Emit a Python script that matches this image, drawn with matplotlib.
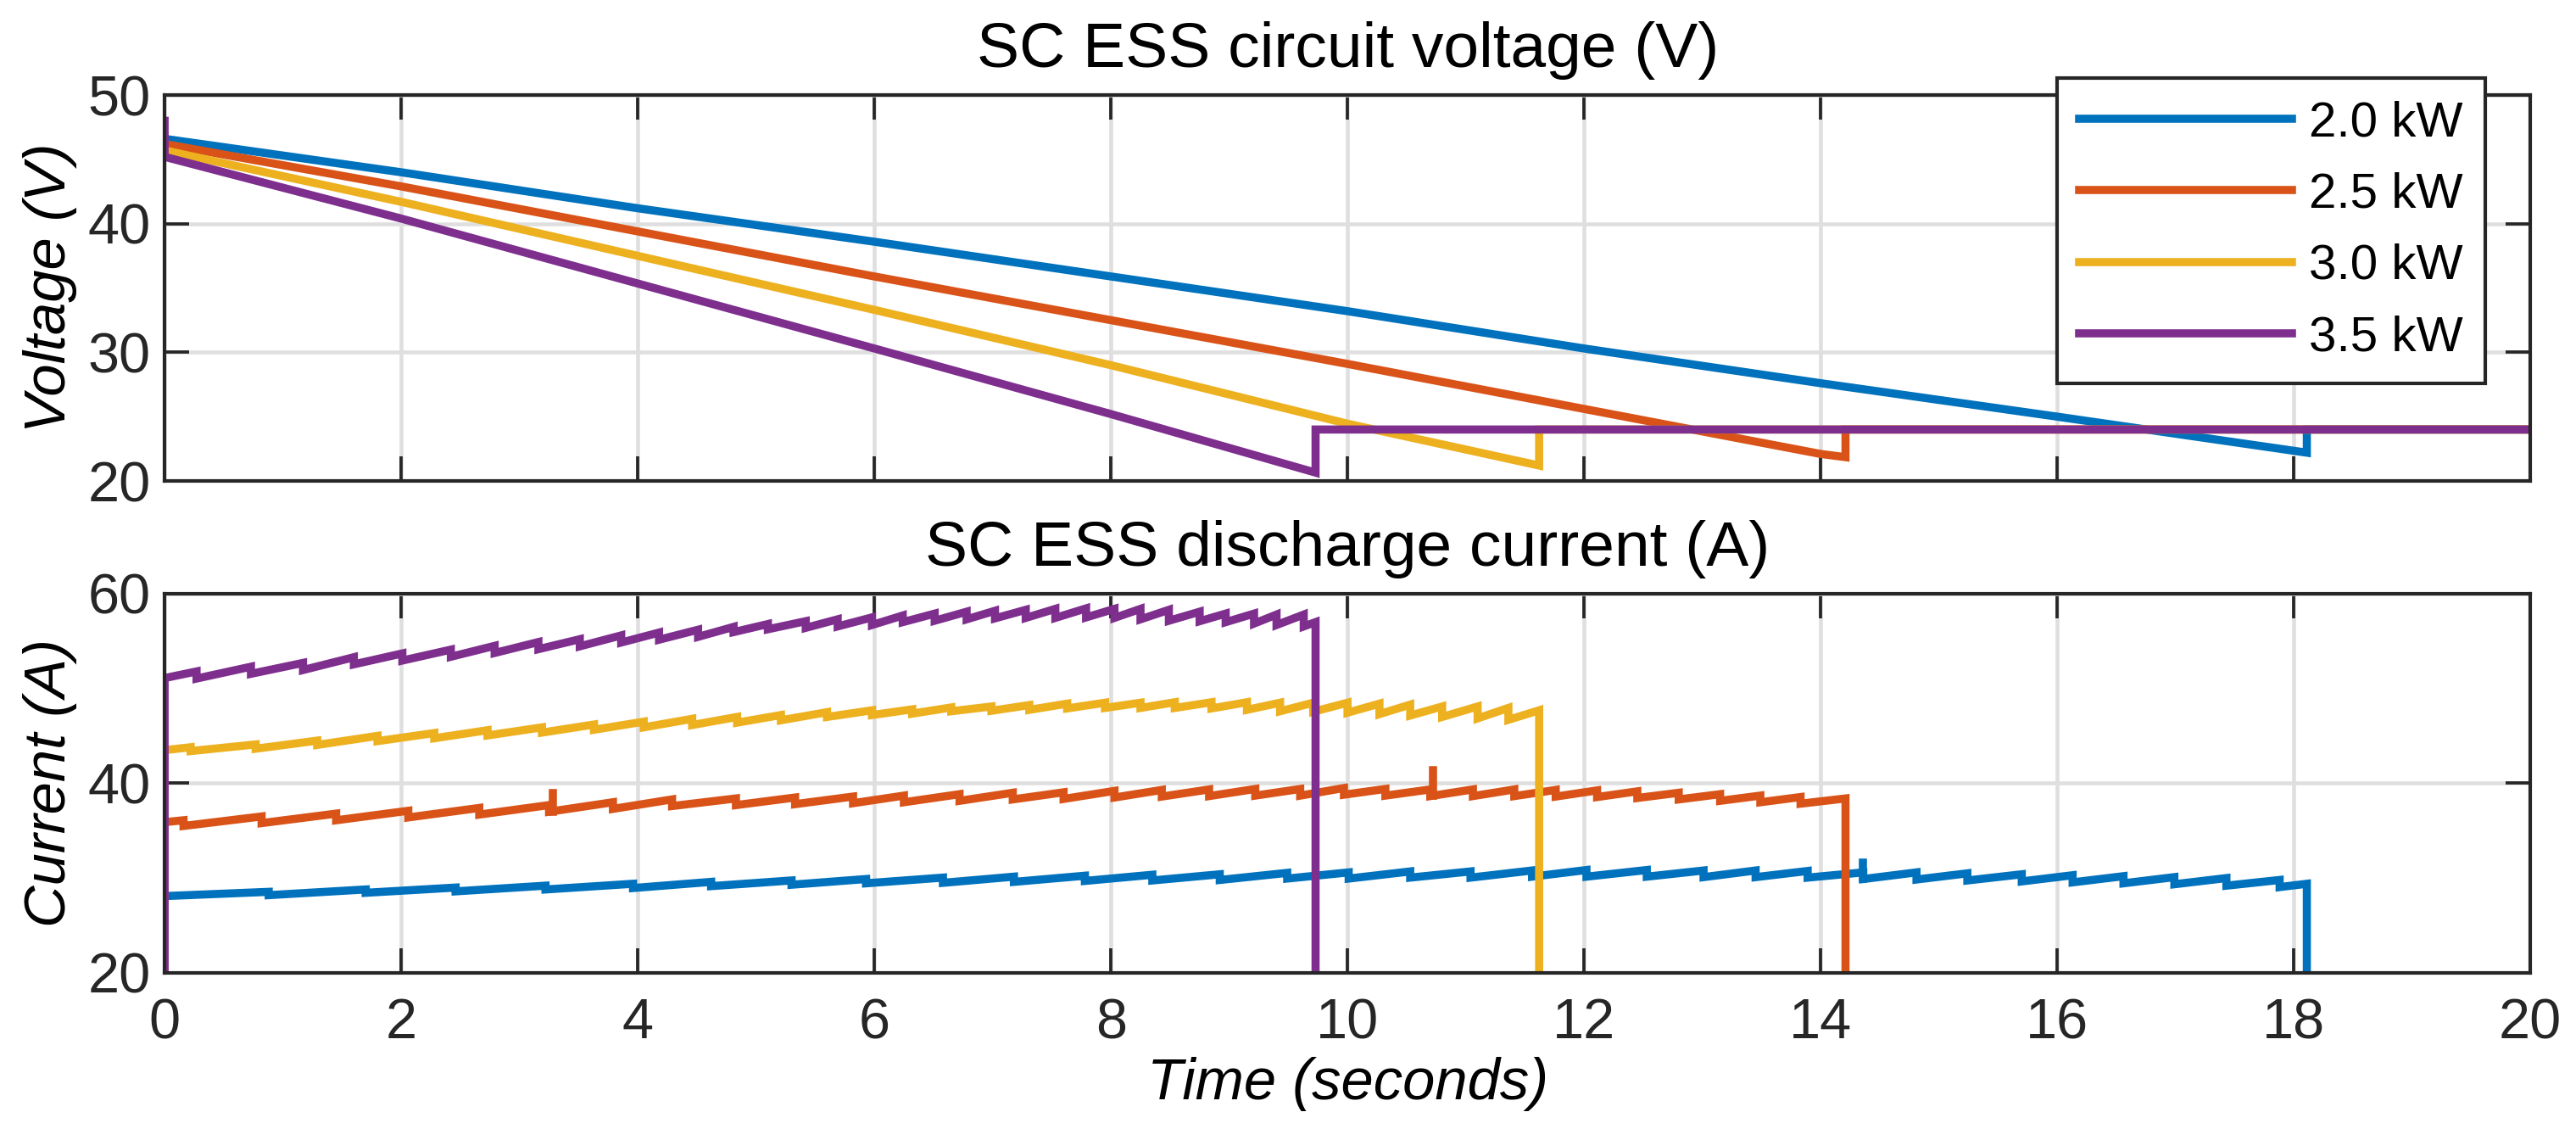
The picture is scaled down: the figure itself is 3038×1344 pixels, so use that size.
import numpy as np
import matplotlib.pyplot as plt

plt.rcParams['font.family'] = ['Liberation Sans', 'DejaVu Sans']

colors = ['#0072BD', '#D95319', '#EDB120', '#7E2F8E']
labels = ['2.0 kW', '2.5 kW', '3.0 kW', '3.5 kW']

v_time = [
    [0, 2, 4, 6, 8, 10, 12, 14, 16, 18.11],
    [0, 2, 4, 6, 8, 10, 12, 14, 14.21],
    [0, 2, 4, 6, 8, 10, 11.62],
    [0, 0, 2, 4, 6, 8, 9.73],
]
v_vals = [
    [46.6, 44.0, 41.2, 38.6, 35.9, 33.2, 30.3, 27.6, 25.0, 22.2],
    [46.2, 42.9, 39.4, 35.9, 32.5, 29.1, 25.6, 22.1, 21.85],
    [45.7, 41.7, 37.5, 33.3, 29.0, 24.45, 21.2],
    [48.0, 45.2, 40.4, 35.35, 30.3, 25.2, 20.65],
]
v_hold = 24.0

# ---- SC current (A): start value, tooth drop times, values before/after each drop, end
i_start = [28.1, 35.9, 43.5, 51.1]
i_drop_t = [
    [0.88, 1.70, 2.46, 3.22, 3.96, 4.62, 5.30, 5.93, 6.58, 7.18, 7.78, 8.35, 8.92,
     9.49, 10.01, 10.53, 11.04, 11.56, 12.02, 12.53, 13.01, 13.45, 13.89, 14.36,
     14.81, 15.24, 15.70, 16.13, 16.56, 16.99, 17.43, 17.88],
    [0.16, 0.82, 1.45, 2.06, 2.66, 3.25, 3.79, 4.29, 4.83, 5.33, 5.82, 6.25, 6.72,
     7.17, 7.60, 8.03, 8.43, 8.83, 9.22, 9.60, 9.97, 10.32, 10.70, 11.06, 11.41,
     11.76, 12.11, 12.45, 12.80, 13.15, 13.49, 13.83],
    [0.22, 0.77, 1.29, 1.80, 2.28, 2.73, 3.19, 3.63, 4.05, 4.46, 4.84, 5.21, 5.60,
     5.98, 6.32, 6.65, 6.99, 7.31, 7.63, 7.95, 8.25, 8.54, 8.85, 9.15, 9.43, 9.71,
     10.00, 10.27, 10.53, 10.80, 11.10, 11.36],
    [0.27, 0.73, 1.17, 1.60, 2.01, 2.42, 2.79, 3.16, 3.51, 3.86, 4.18, 4.51, 4.81,
     5.10, 5.42, 5.69, 5.98, 6.24, 6.51, 6.78, 7.02, 7.28, 7.53, 7.79, 8.03, 8.25,
     8.49, 8.75, 8.97, 9.21, 9.40, 9.63],
]
i_peak = [
    [28.55, 28.8, 29.0, 29.2, 29.4, 29.6, 29.75, 29.9, 30.05, 30.15, 30.25, 30.35,
     30.4, 30.55, 30.6, 30.7, 30.7, 30.8, 30.85, 30.85, 30.8, 30.8, 30.75, 30.6,
     30.6, 30.5, 30.4, 30.3, 30.2, 30.1, 30.0, 29.8],
    [36.1, 36.5, 36.8, 37.1, 37.4, 37.7, 38.0, 38.3, 38.4, 38.5, 38.6, 38.7, 38.85,
     39.0, 39.05, 39.2, 39.3, 39.35, 39.4, 39.4, 39.5, 39.4, 39.35, 39.35, 39.35,
     39.3, 39.25, 39.15, 39.0, 38.85, 38.7, 38.55],
    [43.8, 44.1, 44.5, 45.0, 45.3, 45.6, 45.9, 46.2, 46.5, 46.8, 47.0, 47.2, 47.5,
     47.7, 47.8, 48.0, 48.1, 48.25, 48.4, 48.5, 48.5, 48.55, 48.55, 48.55, 48.5,
     48.5, 48.5, 48.4, 48.3, 48.1, 48.1, 47.95],
    [51.8, 52.3, 52.7, 53.3, 53.7, 54.1, 54.5, 54.9, 55.2, 55.6, 55.9, 56.2, 56.5,
     56.8, 57.1, 57.3, 57.5, 57.7, 57.9, 58.1, 58.2, 58.3, 58.4, 58.45, 58.4, 58.4,
     58.3, 58.1, 57.9, 57.9, 57.8, 57.8],
]
i_trough = [
    [28.2, 28.45, 28.6, 28.8, 28.95, 29.15, 29.3, 29.45, 29.5, 29.6, 29.7, 29.75,
     29.8, 29.95, 29.95, 30.05, 30.05, 30.15, 30.15, 30.15, 30.1, 30.1, 30.05, 29.9,
     29.85, 29.75, 29.65, 29.55, 29.45, 29.35, 29.2, 29.05],
    [35.5, 35.8, 36.1, 36.4, 36.7, 37.0, 37.3, 37.6, 37.7, 37.8, 37.9, 38.0, 38.15,
     38.3, 38.35, 38.5, 38.6, 38.65, 38.7, 38.7, 38.8, 38.7, 38.65, 38.65, 38.65,
     38.6, 38.55, 38.45, 38.3, 38.15, 38.0, 37.85],
    [43.4, 43.65, 44.05, 44.45, 44.75, 45.05, 45.35, 45.65, 45.9, 46.15, 46.4, 46.65,
     47.0, 47.2, 47.35, 47.6, 47.65, 47.75, 47.9, 47.95, 47.95, 47.95, 47.9, 47.75,
     47.6, 47.55, 47.45, 47.3, 47.15, 47.0, 46.85, 46.7],
    [51.05, 51.55, 51.95, 52.55, 52.95, 53.35, 53.75, 54.15, 54.45, 54.85, 55.15,
     55.45, 55.95, 56.25, 56.4, 56.55, 56.7, 57.0, 57.15, 57.3, 57.4, 57.45, 57.45,
     57.5, 57.45, 57.3, 57.15, 57.1, 57.0, 56.85, 56.7, 56.55],
]
i_end_t = [18.11, 14.21, 11.62, 9.73]
i_end_v = [29.4, 38.4, 47.7, 57.0]

# short switching spikes: (series index, time, base, top)
spike_series = [1, 1, 0]
spike_t = [3.28, 10.72, 14.36]
spike_base = [37.0, 38.7, 29.9]
spike_top = [39.0, 41.4, 31.6]

t_max = 20

fig = plt.figure(figsize=(3038 / 300, 1344 / 300), dpi=300)
ax1 = fig.add_axes([0.0639, 0.5781, 0.9184, 0.3385])
ax2 = fig.add_axes([0.0639, 0.1466, 0.9184, 0.3326])

lw = 2.3
for k in range(4):
    t = list(v_time[k]) + [v_time[k][-1], t_max]
    v = list(v_vals[k]) + [v_hold, v_hold]
    ax1.plot(t, v, color=colors[k], lw=lw, label=labels[k], solid_joinstyle='miter')

for k in range(4):
    t = [0, 0]
    y = [0, i_start[k]]
    for td, p, q in zip(i_drop_t[k], i_peak[k], i_trough[k]):
        t += [td, td]
        y += [p, q]
    t += [i_end_t[k], i_end_t[k], t_max]
    y += [i_end_v[k], 0, 0]
    ax2.plot(t, y, color=colors[k], lw=lw, solid_joinstyle='miter')

for s, ts, b, top in zip(spike_series, spike_t, spike_base, spike_top):
    ax2.plot([ts, ts], [b, top], color=colors[s], lw=lw)

dark = '#262626'
for ax in (ax1, ax2):
    ax.set_xlim(0, 20)
    ax.set_xticks(np.arange(0, 21, 2))
    ax.grid(True, color='#dfdfdf', lw=1.1)
    ax.set_axisbelow(True)
    ax.tick_params(direction='in', length=7, width=0.9, top=True, right=True,
                   labelsize=16, colors=dark)
    ax.tick_params(axis='y', pad=4)
    ax.tick_params(axis='x', pad=7)
    for sp in ax.spines.values():
        sp.set_color(dark)
        sp.set_linewidth(1.0)

ax1.set_ylim(20, 50)
ax1.set_yticks([20, 30, 40, 50])
ax1.tick_params(labelbottom=False)
ax1.set_title('SC ESS circuit voltage (V)', fontsize=18, pad=8)
ax1.set_ylabel('Voltage (V)', fontsize=16.5, style='italic', labelpad=3)

ax2.set_ylim(20, 60)
ax2.set_yticks([20, 40, 60])
ax2.set_title('SC ESS discharge current (A)', fontsize=18, pad=8)
ax2.set_ylabel('Current (A)', fontsize=16.5, style='italic', labelpad=3)
ax2.set_xlabel('Time (seconds)', fontsize=16.5, style='italic', labelpad=2)

fig.align_ylabels([ax1, ax2])

leg = ax1.legend(loc='upper right', bbox_to_anchor=(0.9648, 0.9315),
                 bbox_transform=fig.transFigure, borderaxespad=0, fontsize=14,
                 handlelength=4.3, handletextpad=0.35, labelspacing=0.52,
                 borderpad=0.45, fancybox=False, framealpha=1)
leg.get_frame().set_edgecolor(dark)
leg.get_frame().set_linewidth(1.0)

fig.savefig('out.png', dpi=300)
